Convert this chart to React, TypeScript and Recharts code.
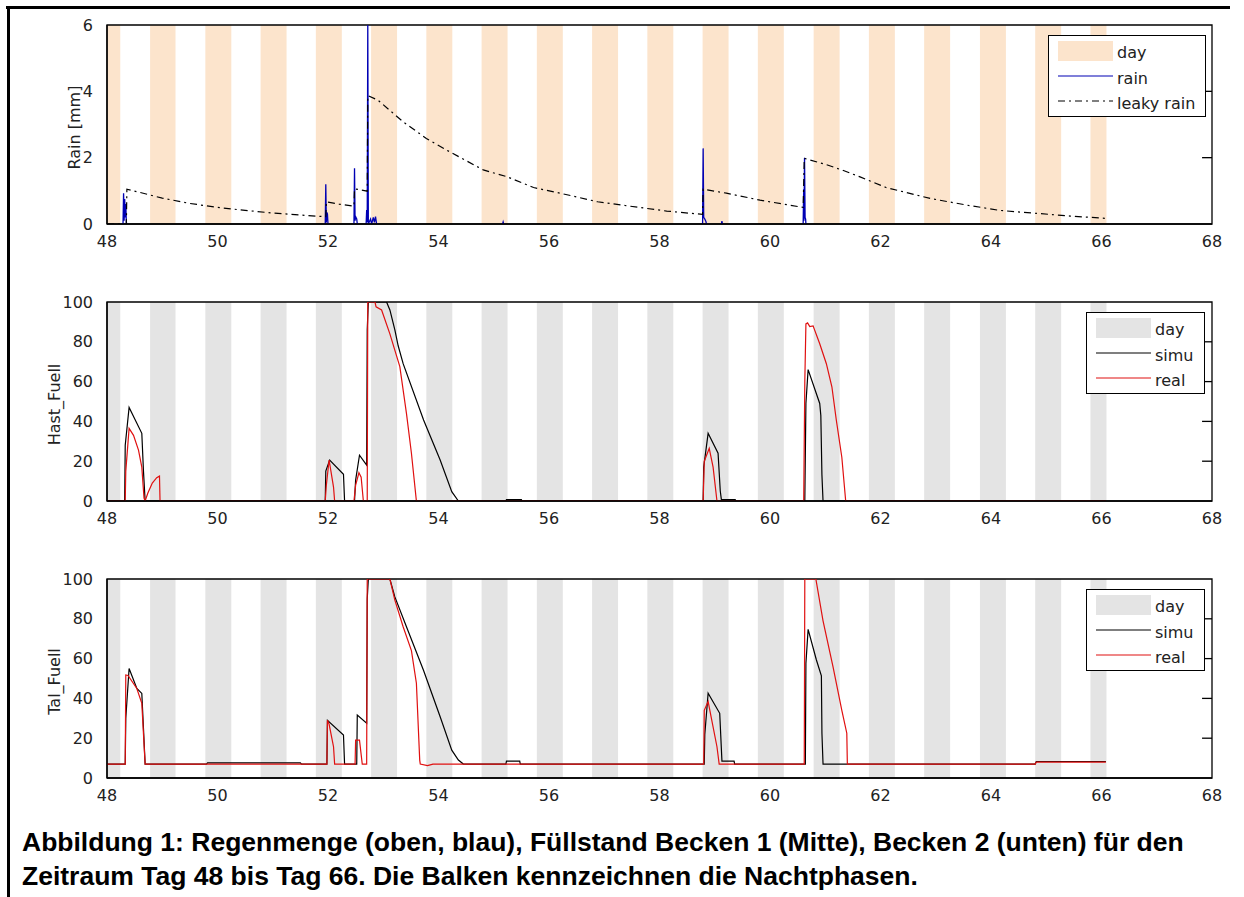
import { LineChart, Line, XAxis, YAxis, ReferenceArea, ReferenceLine, Legend } from 'recharts'

// x axis (Tag)
const xTicks = [48, 50, 52, 54, 56, 58, 60, 62, 64, 66, 68]
const rainTicks = [0, 2, 4, 6]
const levelTicks = [0, 20, 40, 60, 80, 100]

// Balken (Nachtphasen) [start, end]
const dayBands: [number, number][] = [
  [48, 48.24], [48.78, 49.24], [49.78, 50.25], [50.78, 51.25], [51.78, 52.25],
  [52.78, 53.25], [53.78, 54.25], [54.78, 55.25], [55.78, 56.25], [56.78, 57.25],
  [57.78, 58.25], [58.78, 59.25], [59.78, 60.25], [60.79, 61.26], [61.79, 62.26],
  [62.79, 63.26], [63.8, 64.27], [64.8, 65.27], [65.8, 66.09],
]

type Pt = { x: number; y: number | null }

// Regen [mm], null = Lücke
const rain: Pt[] = [
  { x: 48.29, y: 0 }, { x: 48.3, y: 0.93 }, { x: 48.31, y: 0.1 }, { x: 48.32, y: 0.75 },
  { x: 48.33, y: 0.2 }, { x: 48.34, y: 0.6 }, { x: 48.35, y: 0.05 }, { x: 48.36, y: 0 },
  { x: 50, y: null },
  { x: 51.95, y: 0 }, { x: 51.96, y: 1.2 }, { x: 51.97, y: 0.05 }, { x: 51.98, y: 0.35 },
  { x: 51.99, y: 0.3 }, { x: 52.0, y: 0 },
  { x: 52.2, y: null },
  { x: 52.47, y: 0 }, { x: 52.48, y: 1.68 }, { x: 52.49, y: 0.1 }, { x: 52.5, y: 0.22 },
  { x: 52.52, y: 0.15 }, { x: 52.53, y: 0 },
  { x: 52.6, y: null },
  { x: 52.69, y: 0 }, { x: 52.7, y: 0.42 }, { x: 52.71, y: 0.05 }, { x: 52.72, y: 6 },
  { x: 52.73, y: 0 }, { x: 52.77, y: 0.15 }, { x: 52.79, y: 0 }, { x: 52.82, y: 0.2 },
  { x: 52.84, y: 0.05 }, { x: 52.86, y: 0.22 }, { x: 52.88, y: 0 },
  { x: 54, y: null },
  { x: 55.16, y: 0 }, { x: 55.17, y: 0.06 }, { x: 55.18, y: 0 },
  { x: 57, y: null },
  { x: 58.78, y: 0 }, { x: 58.79, y: 2.28 }, { x: 58.8, y: 0.2 }, { x: 58.82, y: 0.15 },
  { x: 58.84, y: 0.08 }, { x: 58.85, y: 0 },
  { x: 59, y: null },
  { x: 59.12, y: 0 }, { x: 59.13, y: 0.09 }, { x: 59.14, y: 0 },
  { x: 60, y: null },
  { x: 60.6, y: 0 }, { x: 60.61, y: 1.05 }, { x: 60.615, y: 0.1 }, { x: 60.625, y: 2.0 },
  { x: 60.635, y: 0.2 }, { x: 60.645, y: 0.15 }, { x: 60.65, y: 0 },
]

// leaky rain [mm]
const leakyRain: Pt[] = [
  { x: 48, y: 0 }, { x: 48.35, y: 0 }, { x: 48.36, y: 1.05 }, { x: 48.6, y: 0.95 },
  { x: 49, y: 0.78 }, { x: 49.5, y: 0.62 }, { x: 50, y: 0.5 }, { x: 50.5, y: 0.41 },
  { x: 51, y: 0.33 }, { x: 51.5, y: 0.27 }, { x: 51.96, y: 0.22 }, { x: 51.97, y: 0.67 },
  { x: 52.2, y: 0.6 }, { x: 52.47, y: 0.54 }, { x: 52.48, y: 1.06 }, { x: 52.71, y: 0.99 },
  { x: 52.72, y: 3.87 }, { x: 52.9, y: 3.74 }, { x: 53.36, y: 3.08 }, { x: 53.78, y: 2.58 },
  { x: 54.2, y: 2.18 }, { x: 54.81, y: 1.63 }, { x: 55.23, y: 1.43 }, { x: 55.72, y: 1.1 },
  { x: 56.2, y: 0.93 }, { x: 56.88, y: 0.67 }, { x: 57.45, y: 0.54 }, { x: 58.13, y: 0.39 },
  { x: 58.78, y: 0.29 }, { x: 58.79, y: 1.05 }, { x: 59.21, y: 0.93 }, { x: 59.82, y: 0.72 },
  { x: 60.6, y: 0.5 }, { x: 60.62, y: 1.98 }, { x: 61.0, y: 1.8 }, { x: 61.3, y: 1.63 },
  { x: 61.63, y: 1.42 }, { x: 62.1, y: 1.1 }, { x: 62.9, y: 0.77 }, { x: 63.56, y: 0.57 },
  { x: 64.16, y: 0.41 }, { x: 64.83, y: 0.32 }, { x: 65.43, y: 0.24 }, { x: 66.08, y: 0.17 },
]

// Becken 1 (Hast_Fuell)
const hastSimu: Pt[] = [
  { x: 48, y: 0 }, { x: 48.32, y: 0 }, { x: 48.33, y: 28 }, { x: 48.4, y: 47 },
  { x: 48.63, y: 34 }, { x: 48.66, y: 15 }, { x: 48.69, y: 0 },
  { x: 51.95, y: 0 }, { x: 51.96, y: 15 }, { x: 52.03, y: 20.6 }, { x: 52.28, y: 13.4 },
  { x: 52.3, y: 0 }, { x: 52.48, y: 0 }, { x: 52.5, y: 10.5 }, { x: 52.57, y: 23 },
  { x: 52.7, y: 18 }, { x: 52.71, y: 86 }, { x: 52.73, y: 100 }, { x: 53.06, y: 100 },
  { x: 53.12, y: 96 }, { x: 53.21, y: 86 }, { x: 53.27, y: 78 }, { x: 53.36, y: 69 },
  { x: 53.73, y: 40.7 }, { x: 54.03, y: 20.6 }, { x: 54.24, y: 4.7 }, { x: 54.36, y: 0 },
  { x: 55.22, y: 0 }, { x: 55.23, y: 0.7 }, { x: 55.5, y: 0.7 }, { x: 55.51, y: 0 },
  { x: 58.79, y: 0 }, { x: 58.8, y: 17 }, { x: 58.88, y: 34 }, { x: 59.06, y: 24 },
  { x: 59.1, y: 5 }, { x: 59.12, y: 0.7 }, { x: 59.37, y: 0.7 }, { x: 59.38, y: 0 },
  { x: 60.63, y: 0 }, { x: 60.65, y: 49 }, { x: 60.69, y: 66 }, { x: 60.9, y: 49 },
  { x: 60.92, y: 43 }, { x: 60.94, y: 13 }, { x: 60.96, y: 0 }, { x: 66.08, y: 0 },
]

const hastReal: Pt[] = [
  { x: 48, y: 0 }, { x: 48.33, y: 0 }, { x: 48.34, y: 15 }, { x: 48.4, y: 36.5 },
  { x: 48.48, y: 33 }, { x: 48.57, y: 25.6 }, { x: 48.63, y: 17 }, { x: 48.67, y: 1.5 },
  { x: 48.69, y: 0 }, { x: 48.74, y: 4 }, { x: 48.82, y: 9 }, { x: 48.9, y: 11.7 },
  { x: 48.95, y: 12.5 }, { x: 48.96, y: 0 },
  { x: 51.95, y: 0 }, { x: 51.97, y: 8 }, { x: 52.02, y: 20.6 }, { x: 52.1, y: 7 },
  { x: 52.12, y: 0 }, { x: 52.47, y: 0 }, { x: 52.5, y: 8 }, { x: 52.56, y: 14.2 },
  { x: 52.6, y: 12 }, { x: 52.64, y: 0 }, { x: 52.71, y: 0 }, { x: 52.72, y: 100 },
  { x: 52.85, y: 100 }, { x: 52.87, y: 97.6 }, { x: 52.97, y: 96 }, { x: 53.12, y: 84 },
  { x: 53.3, y: 67.5 }, { x: 53.42, y: 44 }, { x: 53.51, y: 24 }, { x: 53.6, y: 0 },
  { x: 58.79, y: 0 }, { x: 58.81, y: 20 }, { x: 58.9, y: 26.5 }, { x: 58.97, y: 17 },
  { x: 59.04, y: 0 },
  { x: 60.61, y: 0 }, { x: 60.63, y: 60 }, { x: 60.65, y: 89 }, { x: 60.68, y: 89.5 },
  { x: 60.72, y: 87.6 }, { x: 60.78, y: 88 }, { x: 60.9, y: 79 }, { x: 61.02, y: 69 },
  { x: 61.12, y: 57.4 }, { x: 61.2, y: 40.7 }, { x: 61.3, y: 22 }, { x: 61.37, y: 0 },
  { x: 66.08, y: 0 },
]

// Becken 2 (Tal_Fuell)
const talSimu: Pt[] = [
  { x: 48, y: 7 }, { x: 48.33, y: 7 }, { x: 48.34, y: 30 }, { x: 48.4, y: 55 },
  { x: 48.54, y: 45 }, { x: 48.63, y: 42.5 }, { x: 48.66, y: 25 }, { x: 48.69, y: 7 },
  { x: 49.8, y: 7 }, { x: 49.82, y: 7.6 }, { x: 51.5, y: 7.6 }, { x: 51.52, y: 7 },
  { x: 51.98, y: 7 }, { x: 51.99, y: 29 }, { x: 52.28, y: 21.6 }, { x: 52.3, y: 7 },
  { x: 52.52, y: 7 }, { x: 52.53, y: 31.6 }, { x: 52.7, y: 27.5 }, { x: 52.71, y: 90 },
  { x: 52.73, y: 100 }, { x: 53.12, y: 100 }, { x: 53.21, y: 91 }, { x: 53.42, y: 76 },
  { x: 53.73, y: 54 }, { x: 54.03, y: 30.8 }, { x: 54.24, y: 14 }, { x: 54.36, y: 9 },
  { x: 54.45, y: 7 }, { x: 55.22, y: 7 }, { x: 55.23, y: 8.5 }, { x: 55.47, y: 8.5 },
  { x: 55.48, y: 7 }, { x: 58.81, y: 7 }, { x: 58.82, y: 22 }, { x: 58.88, y: 42.6 },
  { x: 59.09, y: 32.5 }, { x: 59.13, y: 8.5 }, { x: 59.35, y: 8.5 }, { x: 59.36, y: 7 },
  { x: 60.64, y: 7 }, { x: 60.65, y: 57.6 }, { x: 60.69, y: 74.7 }, { x: 60.84, y: 59.3 },
  { x: 60.93, y: 51.3 }, { x: 60.94, y: 22.5 }, { x: 60.96, y: 7 }, { x: 64.8, y: 7 },
  { x: 64.82, y: 8.3 }, { x: 66.08, y: 8.3 },
]

const talReal: Pt[] = [
  { x: 48, y: 7 }, { x: 48.33, y: 7 }, { x: 48.34, y: 51.8 }, { x: 48.38, y: 51.5 },
  { x: 48.54, y: 45 }, { x: 48.63, y: 37.5 }, { x: 48.69, y: 7 },
  { x: 51.98, y: 7 }, { x: 51.99, y: 29 }, { x: 52.02, y: 27 }, { x: 52.1, y: 15.7 },
  { x: 52.12, y: 7 }, { x: 52.49, y: 7 }, { x: 52.5, y: 19 }, { x: 52.57, y: 19 },
  { x: 52.62, y: 7 }, { x: 52.7, y: 7 }, { x: 52.71, y: 100 }, { x: 53.12, y: 100 },
  { x: 53.21, y: 89.4 }, { x: 53.36, y: 76 }, { x: 53.51, y: 64 }, { x: 53.6, y: 47.6 },
  { x: 53.66, y: 9 }, { x: 53.67, y: 7 }, { x: 53.8, y: 6.2 }, { x: 53.9, y: 7 },
  { x: 58.8, y: 7 }, { x: 58.81, y: 34 }, { x: 58.88, y: 38.4 }, { x: 59.04, y: 15.7 },
  { x: 59.08, y: 7 }, { x: 60.62, y: 7 }, { x: 60.63, y: 100 }, { x: 60.83, y: 100 },
  { x: 60.96, y: 79 }, { x: 61.14, y: 56 }, { x: 61.3, y: 34 }, { x: 61.39, y: 22.5 },
  { x: 61.4, y: 7 }, { x: 64.8, y: 7 }, { x: 64.82, y: 8 }, { x: 66.08, y: 8 },
]

const FONT = '"DejaVu Sans", sans-serif'
const PLOT_RIGHT = 1212

type Series = { name: string; data: Pt[]; stroke: string; dash?: string; width?: number }

function LegendBox({ swatch, series }: { swatch: string; series: Series[] }) {
  const w = series.some((s) => s.name.length > 6) ? 158 : 119
  const row = (i: number) => 18 + i * 25
  return (
    <svg width={w} height={82} style={{ display: 'block' }}>
      <rect x={0.5} y={0.5} width={w - 1} height={81} fill="#fff" stroke="#000" strokeWidth={1} />
      <rect x={10} y={6} width={55} height={20} fill={swatch} />
      <text x={69} y={row(0) + 5} fontFamily={FONT} fontSize={16} fill="#222">day</text>
      {series.map((s, i) => (
        <g key={s.name}>
          <line x1={10} x2={65} y1={row(i + 1) - 2} y2={row(i + 1) - 2} stroke={s.stroke}
            strokeWidth={1.2} strokeDasharray={s.dash} />
          <text x={69} y={row(i + 1) + 6} fontFamily={FONT} fontSize={16} fill="#222">{s.name}</text>
        </g>
      ))}
    </svg>
  )
}

function Panel(props: {
  top: number
  yMax: number
  yTicks: number[]
  yLabel: string
  labelX: number
  bandColor: string
  series: Series[]
  legendLeft: number
}) {
  const { top, yMax, yTicks, yLabel, labelX, bandColor, series, legendLeft } = props
  const padTop = 12
  const plotH = 199
  const labelY = plotH / 2 + padTop + 3
  return (
    <div style={{ position: 'absolute', left: 0, top: top - padTop }}>
      <LineChart width={1244} height={plotH + padTop + 36}
        margin={{ top: padTop, right: 1244 - PLOT_RIGHT, bottom: 0, left: 0 }}>
        {dayBands.map(([a, b], i) => (
          <ReferenceArea key={i} x1={a} x2={b} y1={0} y2={yMax} fill={bandColor}
            fillOpacity={1} stroke="none" ifOverflow="hidden" />
        ))}
        <XAxis type="number" dataKey="x" domain={[48, 68]} ticks={xTicks}
          allowDataOverflow height={36} tickLine={false} tickMargin={6}
          axisLine={{ stroke: '#000', strokeWidth: 1.3 }}
          tick={{ fontSize: 16, fontFamily: FONT, fill: '#222' }} />
        <YAxis type="number" domain={[0, yMax]} ticks={yTicks} allowDataOverflow width={107}
          tickLine={false} tickMargin={8} axisLine={{ stroke: '#000', strokeWidth: 1.3 }}
          tick={{ fontSize: 16, fontFamily: FONT, fill: '#222' }}
          label={{
            content: () => (
              <text x={labelX} y={labelY} fontFamily={FONT} fontSize={16}
                fill="#222" textAnchor="middle" dominantBaseline="central"
                transform={`rotate(-90, ${labelX}, ${labelY})`}>
                {yLabel}
              </text>
            ),
          }} />
        {series.map((s) => (
          <Line key={s.name} data={s.data} dataKey="y" type="linear" stroke={s.stroke}
            strokeWidth={s.width ?? 1.2} strokeDasharray={s.dash} dot={false}
            isAnimationActive={false} connectNulls={false} />
        ))}
        <ReferenceArea x1={48} x2={68} y1={0} y2={yMax} fill="none" stroke="#000"
          strokeWidth={1.3} ifOverflow="visible" />
        {/* inward tick marks on the right edge */}
        {yTicks.slice(1, -1).map((t) => (
          <ReferenceLine key={t} segment={[{ x: 67.82, y: t }, { x: 68, y: t }]}
            stroke="#000" strokeWidth={1.3} ifOverflow="visible" />
        ))}
        <Legend layout="horizontal" verticalAlign="middle" align="center"
          wrapperStyle={{ left: legendLeft, top: 10 + padTop, width: 'auto' }}
          content={() => <LegendBox swatch={bandColor} series={series} />} />
      </LineChart>
    </div>
  )
}

export default function App() {
  return (
    <div style={{ position: 'absolute', left: 0, top: 0, width: 1244, height: 897, background: '#fff' }}>
      <div style={{ position: 'absolute', left: 6, top: 6, width: 1224, height: 2.5, background: '#000' }} />
      <div style={{ position: 'absolute', left: 7, top: 6, width: 2.5, height: 891, background: '#000' }} />
      <Panel top={25} yMax={6} yTicks={rainTicks} yLabel="Rain [mm]" labelX={74}
        bandColor="#fce4cc" legendLeft={1048}
        series={[
          { name: 'rain', data: rain, stroke: '#0000b4', width: 1.3 },
          { name: 'leaky rain', data: leakyRain, stroke: '#000', dash: '7 4 2 4', width: 1.2 },
        ]} />
      <Panel top={302} yMax={100} yTicks={levelTicks} yLabel="Hast_Fuell" labelX={54}
        bandColor="#e4e4e4" legendLeft={1086}
        series={[
          { name: 'simu', data: hastSimu, stroke: '#000' },
          { name: 'real', data: hastReal, stroke: '#e01010' },
        ]} />
      <Panel top={579} yMax={100} yTicks={levelTicks} yLabel="Tal_Fuell" labelX={54}
        bandColor="#e4e4e4" legendLeft={1086}
        series={[
          { name: 'simu', data: talSimu, stroke: '#000' },
          { name: 'real', data: talReal, stroke: '#e01010' },
        ]} />
      <div style={{
        position: 'absolute', left: 22, top: 825, fontFamily: '"Liberation Sans", Arial, sans-serif',
        fontWeight: 'bold', fontSize: 26.5, lineHeight: '34px', color: '#000', whiteSpace: 'nowrap',
      }}>
        Abbildung 1: Regenmenge (oben, blau), Füllstand Becken 1 (Mitte), Becken 2 (unten) für den
        <br />
        Zeitraum Tag 48 bis Tag 66. Die Balken kennzeichnen die Nachtphasen.
      </div>
    </div>
  )
}
